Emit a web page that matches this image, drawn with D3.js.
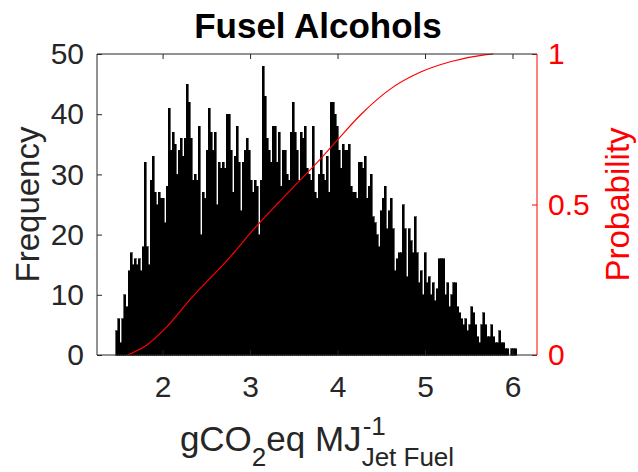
<!DOCTYPE html>
<html>
<head>
<meta charset="utf-8">
<script src="https://cdn.jsdelivr.net/npm/d3@7"></script>
<style>
body { margin: 0; background: #fff; }
svg { display: block; font-family: "Liberation Sans", Arial, Helvetica, sans-serif; }
</style>
</head>
<body>
<div id="chart"></div>
<script>
// histogram counts (about 200 bins)
const binStart = 1.467
const binWidth = 0.0229
const counts = [
  4, 6, 2, 6, 10, 8, 14, 17, 15, 16, 15, 16, 14, 18, 32, 18, 15, 29, 33, 27,
  25, 27, 26, 26, 22, 28, 41, 34, 37, 35, 30, 34, 36, 33, 36, 45, 42, 36, 29, 30,
  29, 38, 20, 27, 26, 34, 41, 37, 34, 37, 25, 32, 31, 32, 31, 40, 40, 34, 27, 33,
  38, 32, 24, 32, 34, 36, 34, 29, 27, 29, 28, 20, 29, 48, 43, 36, 34, 32, 38, 38, 32,
  37, 28, 34, 34, 30, 29, 37, 42, 37, 34, 29, 37, 36, 38, 31, 30, 29, 38, 27, 26,
  30, 34, 30, 29, 33, 27, 42, 42, 40, 38, 34, 31, 35, 34, 34, 35, 28, 27, 27, 26, 32,
  32, 31, 33, 26, 28, 30, 23, 22, 20, 18, 24, 26, 28, 21, 24, 26, 21, 14, 16, 17,
  17, 25, 21, 13, 21, 19, 17, 23, 17, 12, 14, 10, 17, 12, 13, 10, 12, 9, 11, 16, 16,
  16, 10, 12, 8, 10, 12, 12, 8, 7, 6, 5, 6, 4, 5, 8, 7, 5, 3, 2, 5,
  7, 5, 3, 3, 5, 3, 2, 2, 4, 2, 2, 1, 1, 0, 1, 1, 1, 0
]

// cumulative probability curve (red)
const cdfX = [1.60, 1.82, 2.05, 2.31, 2.81, 3.00, 3.32, 3.57, 3.80, 4.00, 4.27, 4.61, 4.95, 5.30, 5.68, 5.78]
const cdfP = [0, 0.033, 0.094, 0.183, 0.338, 0.404, 0.505, 0.58, 0.65, 0.715, 0.80, 0.885, 0.94, 0.975, 0.997, 1.0]

const xTicks = [2, 3, 4, 5, 6]
const yTicks = [0, 10, 20, 30, 40, 50]
const pTicks = [0, 0.5, 1]

const W = 638, H = 472
const margin = {top: 54, right: 101, bottom: 117, left: 97}
const axisColor = "#262626"
const red = "#ff0000"

const svg = d3.select("#chart").append("svg")
    .attr("width", W)
    .attr("height", H)

const x = d3.scaleLinear().domain([1.25, 6.28]).range([margin.left, W - margin.right])
const y = d3.scaleLinear().domain([0, 50]).range([H - margin.bottom, margin.top])
const yR = d3.scaleLinear().domain([0, 1]).range([H - margin.bottom, margin.top])

// bars
svg.append("g")
    .attr("shape-rendering", "crispEdges")
    .selectAll("rect")
    .data(counts)
    .enter()
    .append("rect")
    .attr("x", (d, i) => x(binStart + i * binWidth))
    .attr("width", (d, i) => x(binStart + (i + 1) * binWidth) - x(binStart + i * binWidth))
    .attr("y", d => y(d))
    .attr("height", d => y(0) - y(d))
    .attr("fill", "#000")
    .attr("stroke", "#000")
    .attr("stroke-width", 0.6)

// cdf line
svg.append("path")
    .datum(d3.zip(cdfX, cdfP))
    .attr("fill", "none")
    .attr("stroke", red)
    .attr("stroke-width", 1.2)
    .attr("d", d3.line().x(d => x(d[0])).y(d => yR(d[1])).curve(d3.curveMonotoneX))

function styleAxis(g, color) {
    g.select(".domain").remove()
    g.selectAll(".tick line").attr("stroke", color)
    g.selectAll(".tick text").attr("fill", color).style("font-size", "30px")
}

const x0 = margin.left, x1 = W - margin.right, y0 = H - margin.bottom, y1 = margin.top

svg.append("g")
    .attr("transform", `translate(0,${y0})`)
    .call(d3.axisBottom(x).tickValues(xTicks).tickSize(-5).tickPadding(21).tickFormat(d => d))
    .call(g => styleAxis(g, axisColor))

svg.append("g")
    .attr("transform", `translate(0,${y1})`)
    .call(d3.axisTop(x).tickValues(xTicks).tickSize(-5).tickFormat(""))
    .call(g => styleAxis(g, axisColor))

svg.append("g")
    .attr("transform", `translate(${x0},0)`)
    .call(d3.axisLeft(y).tickValues(yTicks).tickSize(-5).tickPadding(13))
    .call(g => styleAxis(g, axisColor))

svg.append("g")
    .attr("transform", `translate(${x1},0)`)
    .call(d3.axisRight(yR).tickValues(pTicks).tickSize(-5).tickPadding(11).tickFormat(d => d))
    .call(g => styleAxis(g, red))

// box
svg.append("path")
    .attr("d", `M${x1},${y1}H${x0}V${y0}H${x1}`)
    .attr("fill", "none").attr("stroke", axisColor).attr("stroke-width", 1)
svg.append("line")
    .attr("x1", x1).attr("x2", x1).attr("y1", y1).attr("y2", y0)
    .attr("stroke", red).attr("stroke-width", 1)

// title
svg.append("text")
    .attr("x", (x0 + x1) / 2 + 1)
    .attr("y", 38)
    .attr("text-anchor", "middle")
    .style("font-size", "35px")
    .style("font-weight", "bold")
    .attr("fill", "#000")
    .text("Fusel Alcohols")

// y labels
svg.append("text")
    .attr("transform", `translate(39,${(y0 + y1) / 2}) rotate(-90)`)
    .attr("text-anchor", "middle")
    .style("font-size", "33px")
    .attr("fill", axisColor)
    .text("Frequency")

svg.append("text")
    .attr("transform", `translate(629,${(y0 + y1) / 2}) rotate(-90)`)
    .attr("text-anchor", "middle")
    .style("font-size", "33px")
    .attr("fill", red)
    .text("Probability")

// x label with sub / superscripts
const xl = svg.append("g").attr("fill", axisColor)
const base = xl.append("text").attr("y", 451).style("font-size", "35px")
base.append("tspan").text("gCO")
base.append("tspan").attr("dy", 15).style("font-size", "26px").text("2")
base.append("tspan").attr("dy", -15).text("eq MJ")
const baseW = base.node().getComputedTextLength()
const sup = xl.append("text").attr("x", baseW + 1).attr("y", 435).style("font-size", "26px").text("-1")
const sub = xl.append("text").attr("x", baseW).attr("y", 466).style("font-size", "26px").text("Jet Fuel")
const totalW = baseW + Math.max(sup.node().getComputedTextLength(), sub.node().getComputedTextLength())
xl.attr("transform", `translate(${(x0 + x1) / 2 - totalW / 2},0)`)
</script>
</body>
</html>
